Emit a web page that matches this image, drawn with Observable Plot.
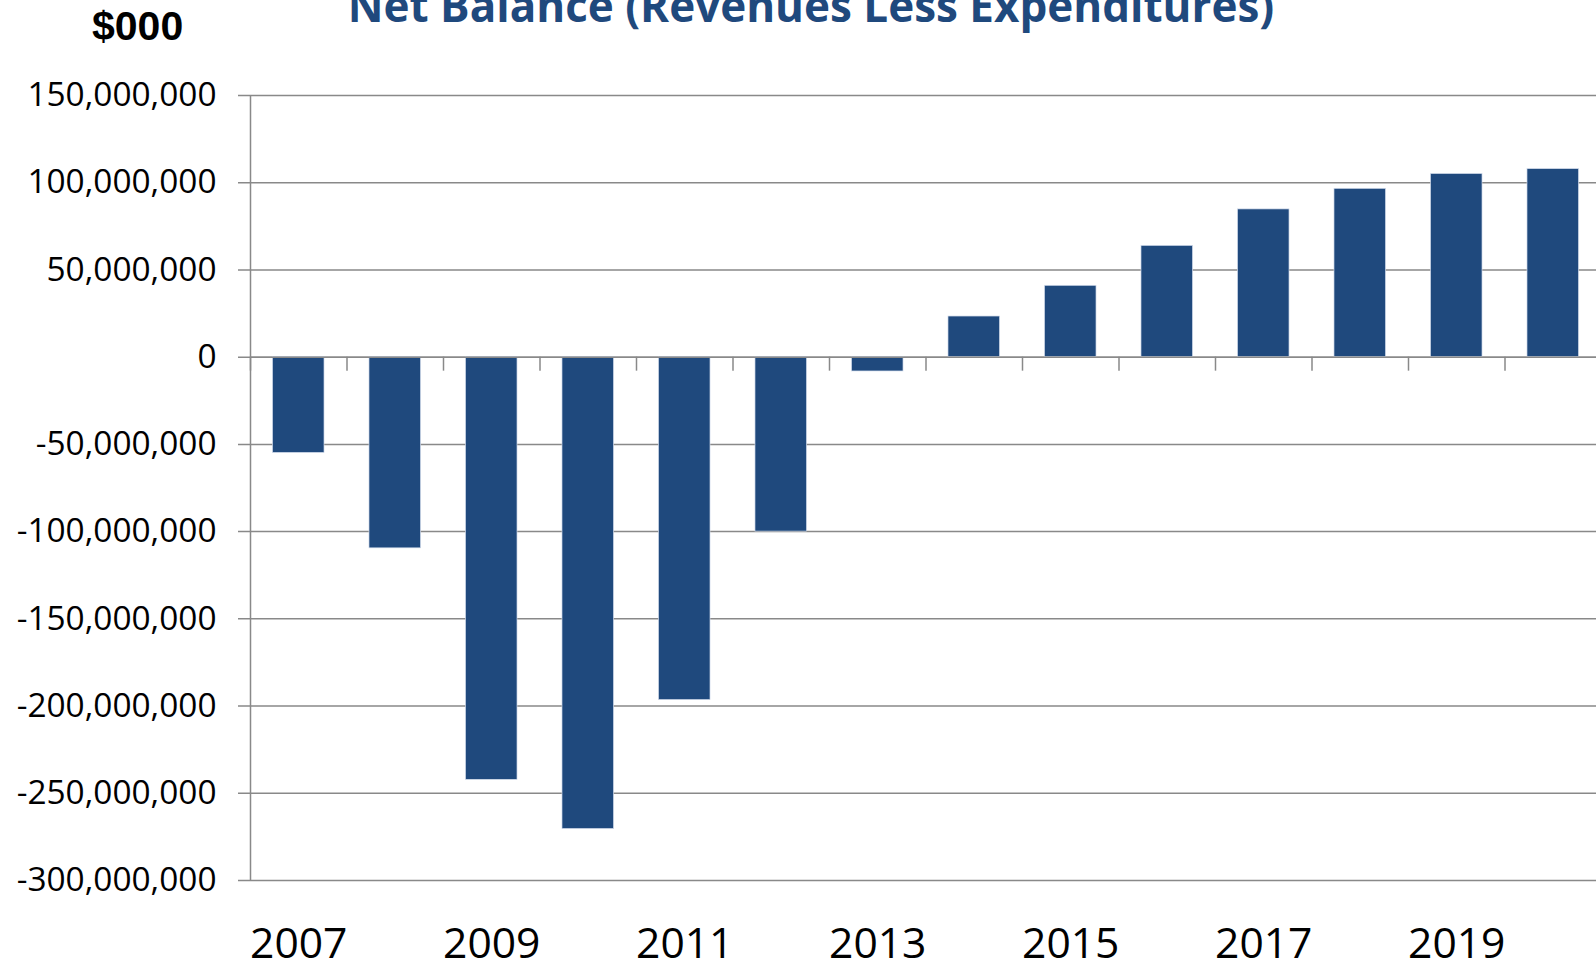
<!DOCTYPE html>
<html><head><meta charset="utf-8">
<script src="https://cdn.jsdelivr.net/npm/d3@7"></script>
<script src="https://cdn.jsdelivr.net/npm/@observablehq/plot@0.6"></script>
<style>
html,body{margin:0;padding:0;background:#fff;overflow:hidden}
#wrap{position:relative;width:1596px;height:962px;overflow:hidden;background:#fff}
#title{position:absolute;left:311px;width:1000px;top:-17px;text-align:center;font-family:"Open Sans";font-weight:bold;font-size:44px;line-height:44px;color:#1F497D;white-space:nowrap}
#unit{position:absolute;left:92px;top:6px;font-family:"Liberation Sans";font-weight:bold;font-size:41px;line-height:41px;color:#000;white-space:nowrap}
#chart{position:absolute;left:0;top:0}
</style>
</head><body>
<div id="wrap">
  <div id="chart"></div>
  <div id="title">Net Balance (Revenues Less Expenditures)</div>
  <div id="unit">$000</div>
</div>
<script>
const years = [2007, 2008, 2009, 2010, 2011, 2012, 2013, 2014, 2015, 2016, 2017, 2018, 2019, 2020];
const netBalance = [-54.9e6, -109.6e6, -242.3e6, -270.5e6, -196.6e6, -100e6, -8.2e6, 23.3e6, 40.9e6, 63.8e6, 84.7e6, 96.5e6, 105e6, 107.8e6];
const yTicks = [150e6, 100e6, 50e6, 0, -50e6, -100e6, -150e6, -200e6, -250e6, -300e6];
const xTickYears = [2007, 2009, 2011, 2013, 2015, 2017, 2019];

const data = years.map((year, i) => ({year, value: netBalance[i]}));
const boundaries = years.map(y => y - 0.5);
const fmt = d => (d < 0 ? "-" : "") + d3.format(",")(Math.abs(d));
const half = 0.267;
const gray = "#898989";

const chart = Plot.plot({
  width: 1596,
  height: 962,
  marginLeft: 250,
  marginRight: -5,
  marginTop: 95,
  marginBottom: 82,
  style: {fontFamily: "Open Sans", background: "white", color: "#000"},
  x: {domain: [2006.5, 2020.5], axis: null, label: null},
  y: {domain: [-300e6, 150e6], axis: null, label: null},
  marks: [
    Plot.ruleY(yTicks, {y: d => d, stroke: gray, strokeWidth: 1.5, insetLeft: -12}),
    Plot.rectY(data, {x1: d => d.year - half, x2: d => d.year + half, y1: 0, y2: "value", fill: "#1F497D", stroke: "#d3dceb", strokeWidth: 0.7}),
    Plot.ruleY([0], {stroke: gray, strokeWidth: 1.5}),
    Plot.ruleX(boundaries, {x: d => d, y1: 0, y2: 0, insetBottom: -14, stroke: gray, strokeWidth: 1.5}),
    Plot.ruleX([2006.5], {y1: -300e6, y2: 150e6, stroke: gray, strokeWidth: 1.5}),
    Plot.axisY({ticks: yTicks, tickSize: 0, tickPadding: 34, tickFormat: fmt, fontSize: 33.4, fill: "#000", label: null}),
    Plot.axisX({ticks: xTickYears, tickSize: 0, tickPadding: 47, tickFormat: d => String(d), fontSize: 42.6, fill: "#000", label: null})
  ]
});
document.getElementById("chart").appendChild(chart);
</script>
</body></html>
